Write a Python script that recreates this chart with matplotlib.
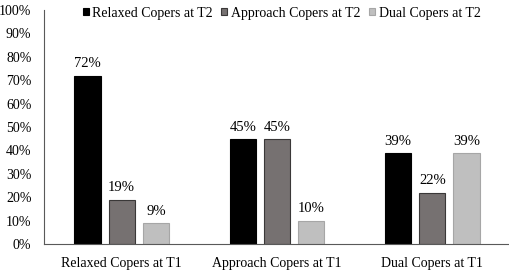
import matplotlib
matplotlib.use("Agg")
import matplotlib.pyplot as plt
import numpy as np

categories = ["Relaxed Copers at T1", "Approach Copers at T1", "Dual Copers at T1"]
series_names = ["Relaxed Copers at T2", "Approach Copers at T2", "Dual Copers at T2"]
relaxed_t2 = [72, 45, 39]
approach_t2 = [19, 45, 22]
dual_t2 = [9, 10, 39]
y_ticks = [0, 10, 20, 30, 40, 50, 60, 70, 80, 90, 100]

plt.rcParams['font.family'] = ['Liberation Serif', 'DejaVu Serif']

fig = plt.figure(figsize=(5.1, 2.7), dpi=100)
ax = fig.add_axes([44/510, 26/270, 466/510, 234/270])

colors = ["#000000", "#767171", "#bfbfbf"]
edges = ["#000000", "#3a3838", "#a6a6a6"]
x = np.arange(len(categories))
w = 0.168
step = 0.22
for i, (vals, name) in enumerate(zip([relaxed_t2, approach_t2, dual_t2], series_names)):
    pos = x + (i - 1) * step
    bars = ax.bar(pos, vals, width=w, color=colors[i], edgecolor=edges[i], linewidth=0.8, label=name)
    for b, v in zip(bars, vals):
        ax.text(b.get_x() + b.get_width()/2, v + 2.2, f"{v}%", ha="center", va="bottom", fontsize=10.5)

ax.set_xlim(-0.5, 2.5)
ax.set_ylim(0, 100)
ax.set_yticks(y_ticks)
ax.set_yticklabels([f"{t}%" for t in y_ticks], fontsize=10)
ax.set_xticks(x)
ax.set_xticklabels(categories, fontsize=10)
ax.tick_params(axis='both', length=0)
ax.tick_params(axis='y', pad=9)
ax.tick_params(axis='x', pad=9)
for s in ["top", "right"]:
    ax.spines[s].set_visible(False)
ax.spines["left"].set_color("#595959")
ax.spines["bottom"].set_color("#595959")

leg = fig.legend(loc="center left", bbox_to_anchor=(77/510, 1 - 13/270), ncol=3, frameon=False,
                 fontsize=10, handlelength=0.45, handleheight=0.45, handletextpad=0.25,
                 columnspacing=0.6, borderaxespad=0.0)

fig.savefig("out.png", dpi=100)
